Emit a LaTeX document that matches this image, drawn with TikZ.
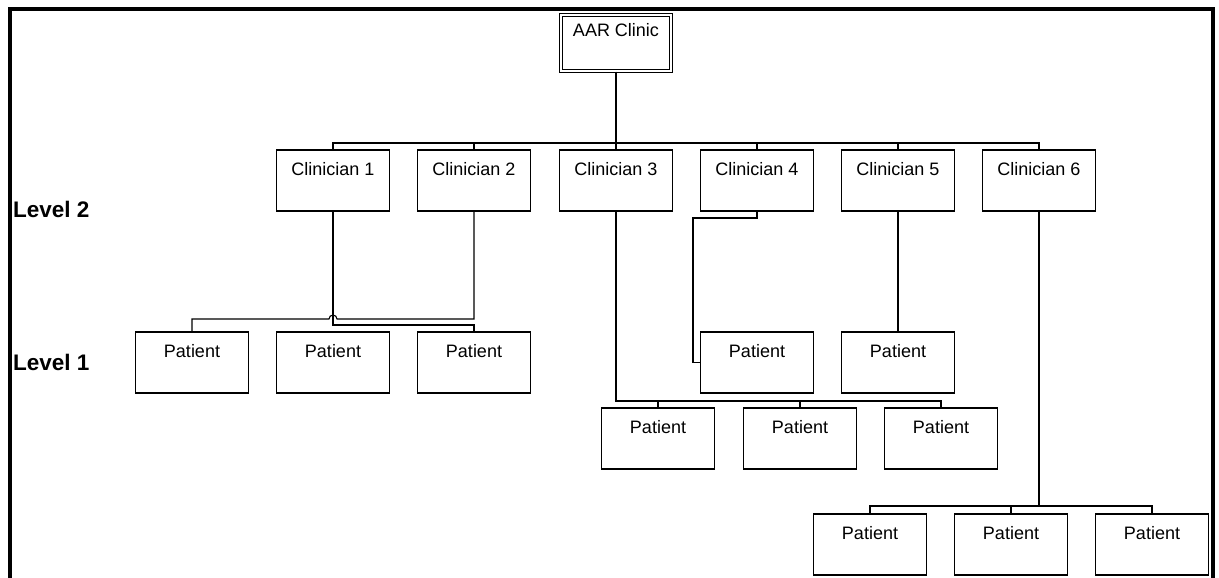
\documentclass[tikz,border=0pt]{standalone}
\usepackage{fontspec}
\setmainfont{Liberation Sans}
\begin{document}
\begin{tikzpicture}[x=1pt,y=-1pt,
  box/.style={draw, line width=1.1pt, minimum width=113pt, inner xsep=0pt, inner ysep=0pt,
    text height=25pt, text depth=36pt, font=\fontsize{18}{21}\selectfont, anchor=center},
  rootbox/.style={draw, double, line width=0.9pt, double distance=1.8pt, minimum width=110.4pt,
    inner xsep=0pt, inner ysep=0pt, text height=22.2pt, text depth=34.2pt,
    font=\fontsize{18}{21}\selectfont, anchor=center},
  link/.style={line width=1.1pt},
  heavy/.style={line width=1.8pt},
  lvl/.style={font=\bfseries\fontsize{22.5}{26}\selectfont, anchor=base west, inner sep=0pt},
  frame/.style={line width=4pt, line join=miter}]
\useasboundingbox (0,0) rectangle (1219,578);
\draw[frame] (10,582) -- (10,9.5) -- (1213,9.5) -- (1213,582);

% root
\node[rootbox] (root) at (616,43) {AAR Clinic};
% clinicians
\node[box] (c1) at (333,180.5) {Clinician 1};
\node[box] (c2) at (474,180.5) {Clinician 2};
\node[box] (c3) at (616,180.5) {Clinician 3};
\node[box] (c4) at (757,180.5) {Clinician 4};
\node[box] (c5) at (898,180.5) {Clinician 5};
\node[box] (c6) at (1039,180.5) {Clinician 6};
% level labels
\node[lvl] (l2) at (13,217) {Level 2};
\node[lvl] (l1) at (13,370) {Level 1};
% patients level 1 row
\node[box] (p11) at (192,362.5) {Patient};
\node[box] (p12) at (333,362.5) {Patient};
\node[box] (p13) at (474,362.5) {Patient};
\node[box] (p4) at (757,362.5) {Patient};
\node[box] (p5) at (898,362.5) {Patient};
% clinician 3 patients
\node[box] (p31) at (658,438.5) {Patient};
\node[box] (p32) at (800,438.5) {Patient};
\node[box] (p33) at (941,438.5) {Patient};
% clinician 6 patients
\node[box] (p61) at (870,544.5) {Patient};
\node[box] (p62) at (1011,544.5) {Patient};
\node[box] (p63) at (1152,544.5) {Patient};

% coordinates
\coordinate (bus) at (616,143);
\coordinate (c3bus) at (616,401);
\coordinate (c6bus) at (1039,506);

% root to clinicians
\draw[heavy] (root.south) -- (bus);
\draw[link] (bus) -| (c1.north);
\draw[link] (bus) -| (c2.north);
\draw[link] (bus) -- (c3.north);
\draw[link] (bus) -| (c4.north);
\draw[link] (bus) -| (c5.north);
\draw[link] (bus) -| (c6.north);

% clinician 1 -> third patient
\draw[link] (c1.south) -- (333,325) -| (p13.north);
% clinician 2 -> first patient, hopping over clinician 1's line
\draw[link] (c2.south) -- (474,319) -- (337,319) arc[start angle=0, end angle=-180, radius=4] -- (192,319) -- (p11.north);
% clinician 4 -> patient
\draw[link] (c4.south) -- (757,218) -- (693,218) -- (693,362.5) -- (p4.west);
% clinician 5 -> patient
\draw[link] (c5.south) -- (p5.north);
% clinician 3 -> patients
\draw[heavy] (c3.south) -- (c3bus) -- (941,401);
\draw[link] (c3bus) -| (p31.north);
\draw[link] (c3bus) -| (p32.north);
\draw[link] (c3bus) -| (p33.north);
% clinician 6 -> patients
\draw[heavy] (c6.south) -- (c6bus);
\draw[link] (c6bus) -| (p61.north);
\draw[link] (c6bus) -| (p62.north);
\draw[link] (c6bus) -| (p63.north);
\end{tikzpicture}
\end{document}
